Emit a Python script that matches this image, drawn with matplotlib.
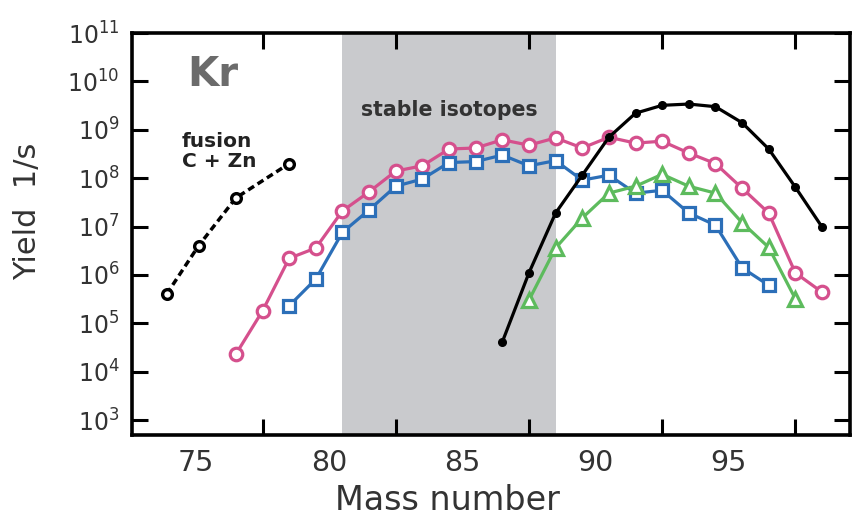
import numpy as np
import matplotlib
matplotlib.use("Agg")
import matplotlib.pyplot as plt
import matplotlib.transforms as mtransforms

# Kr isotope yields vs mass number
fusion_mass = [71.4, 72.6, 74, 76]
fusion_yield = [4e5, 4e6, 3.9e7, 2e8]

pink_mass = list(range(74, 97))
pink_yield = [2.3e4, 1.8e5, 2.2e6, 3.6e6, 2.1e7, 5.2e7, 1.4e8, 1.8e8, 4e8, 4.2e8,
              6.2e8, 4.8e8, 6.8e8, 4.2e8, 7e8, 5.3e8, 5.8e8, 3.3e8, 2e8, 6.2e7,
              1.9e7, 1.1e6, 4.4e5]

blue_mass = list(range(76, 95))
blue_yield = [2.3e5, 8.2e5, 7.6e6, 2.2e7, 6.8e7, 9.6e7, 2.1e8, 2.2e8, 3e8, 1.8e8,
              2.3e8, 9.1e7, 1.15e8, 4.9e7, 5.6e7, 1.9e7, 1.07e7, 1.4e6, 6.1e5]

green_mass = list(range(85, 96))
green_yield = [3e5, 3.6e6, 1.5e7, 4.9e7, 6.8e7, 1.2e8, 6.8e7, 4.9e7, 1.2e7, 3.7e6, 3.2e5]

black_mass = list(range(84, 97))
black_yield = [4.1e4, 1.1e6, 1.9e7, 1.15e8, 7e8, 2.2e9, 3.2e9, 3.4e9, 3e9, 1.4e9,
               4e8, 6.5e7, 9.8e6]

stable_range = (78, 86)
xticks = [75, 80, 85, 90, 95]
yticks = [10.0 ** k for k in range(3, 12)]

pink = '#d5508d'
blue = '#2c6fb8'
green = '#5dbb5d'

fig = plt.figure(figsize=(8.66, 5.19), dpi=100)
ax = fig.add_axes([0.1524, 0.1618, 0.8291, 0.7746])

ax.axvspan(stable_range[0], stable_range[1], color='#c9cacd', lw=0, zorder=0)
ax.text(np.mean(stable_range), 0.808, 'stable isotopes', transform=ax.get_xaxis_transform(),
        ha='center', va='center', fontsize=14.8, fontweight='bold', color='#333333')

ax.plot(fusion_mass, fusion_yield, color='black', lw=2.5, ls=(0, (2, 1.2)),
        marker='o', ms=7, mfc='white', mew=2.4, zorder=3)
ax.plot(pink_mass, pink_yield, color=pink, lw=2.3, marker='o', ms=9,
        mfc='white', mew=2.3, zorder=3)
ax.plot(blue_mass, blue_yield, color=blue, lw=2.3, marker='s', ms=8.5,
        mfc='white', mew=2.3, zorder=4)
ax.plot(green_mass, green_yield, color=green, lw=2.3, marker='^', ms=9.5,
        mfc='white', mew=2.3, zorder=4)
ax.plot(black_mass, black_yield, color='black', lw=2.3, marker='o', ms=5.5,
        zorder=5)

ax.text(0.113, 0.896, 'Kr', transform=ax.transAxes, ha='center', va='center',
        fontsize=29, fontweight='bold', color='#6b6b6b')
ax.text(0.0696, 0.755, 'fusion\nC + Zn', transform=ax.transAxes, ha='left', va='top',
        fontsize=14.5, fontweight='bold', color='#222222', linespacing=1.1)

ax.set_yscale('log')
ax.set_xlim(70.1, 97.05)
ax.set_ylim(10 ** 2.69, 1e11)
ax.set_xticks(xticks)
ax.set_yticks(yticks)
ax.set_yticklabels([r'$\mathregular{10^{%d}}$' % k for k in range(3, 12)])
ax.minorticks_off()

ax.tick_params(direction='in', length=11.5, width=2.2, top=True, right=True,
               color='black', labelcolor='#333333')
ax.tick_params(axis='x', labelsize=20.5, pad=10)
ax.tick_params(axis='y', labelsize=17, pad=9)
for s in ax.spines.values():
    s.set_linewidth(2.6)

ax.set_xlabel('Mass number', fontsize=24, color='#333333')
ax.set_ylabel('Yield  1/s', fontsize=22, color='#333333')
ax.xaxis.set_label_coords(0.439, -0.122)
ax.yaxis.set_label_coords(-0.125, 0.557)
ax.xaxis.label.set_va('top')

# x labels sit half a tick interval to the left of their tick marks
x0, x1 = ax.get_xlim()
shift_in = 2.5 * fig.get_figwidth() * ax.get_position().width / (x1 - x0)
offset = mtransforms.ScaledTranslation(-shift_in, 0, fig.dpi_scale_trans)
for lab in ax.get_xticklabels():
    lab.set_transform(lab.get_transform() + offset)

fig.savefig('out.png', dpi=100)
